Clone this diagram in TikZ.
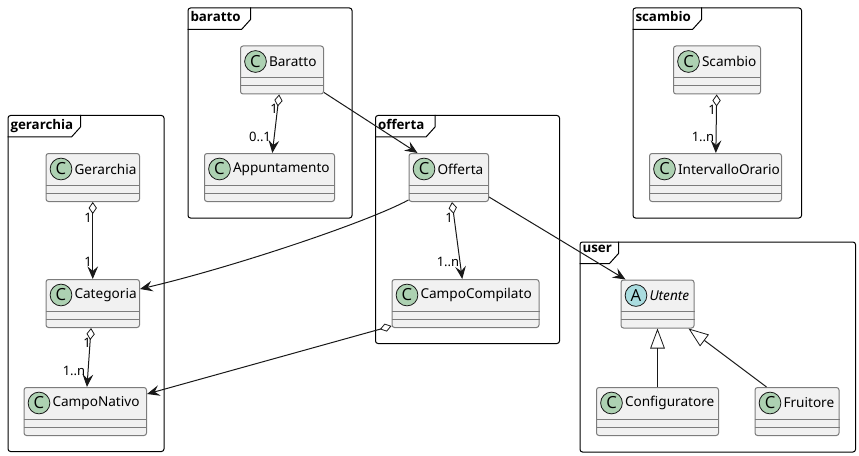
\documentclass[tikz,border=0pt]{standalone}
\usepackage{fontspec}
\setmainfont{Noto Sans}
\newfontfamily\tabfont{Open Sans}
\usetikzlibrary{arrows.meta,calc}

\definecolor{boxfill}{HTML}{F1F1F1}
\definecolor{boxline}{HTML}{7C7C7C}
\definecolor{wireline}{HTML}{181818}
\definecolor{spotC}{HTML}{ADD1B2}
\definecolor{spotA}{HTML}{A9DCDF}

\tikzset{every picture/.style={line width=0.75pt},
	framebox/.style={draw=black,rounded corners=1.9pt,anchor=north west,inner sep=0pt,line width=0.75pt},
	tabtext/.style={anchor=north west,inner sep=0pt,font=\fontsize{10}{12}\tabfont\bfseries},
	classbox/.style={draw=boxline,fill=boxfill,rounded corners=1.9pt,anchor=north west,inner sep=0pt,minimum height=36pt,line width=0.75pt},
	spot/.style={circle,draw=wireline,line width=0.6pt,minimum size=16.3pt,inner sep=0pt,font=\fontsize{12.5}{12}\tabfont},
	classtext/.style={anchor=west,inner sep=0pt,font=\fontsize{10.2}{12}\selectfont},
	rolelabel/.style={inner sep=0pt,font=\fontsize{9.75}{11}\selectfont},
	wire/.style={draw=wireline,line width=0.75pt},
	hasa/.style={wire,{Diamond[open,length=9pt,width=6.2pt,line width=0.6pt]}-{Stealth[length=9.5pt,width=8pt,inset=3.5pt]}},
	uses/.style={wire,-{Stealth[length=9.5pt,width=8pt,inset=3.5pt]}},
	isa/.style={wire,-{Triangle[open,length=15pt,width=11pt,line width=0.6pt]}}}

% frame of a package: name, x, y, width, height, tab width, text
\newcommand{\packagenode}[7]{
	\node [framebox,minimum width=#4*0.75pt,minimum height=#5*0.75pt] (#1) at (#2,#3) {};
	\draw [line width=0.75pt] ($(#1.north west)+(0,22)$) -- ($(#1.north west)+(#6-9,22)$) -- ($(#1.north west)+(#6,12)$) -- ($(#1.north west)+(#6,0)$);
	\node [tabtext] (#1tab) at ($(#1.north west)+(2.5,3.5)$) {#7};
}
% class box: name, x, y, width, letter, spot colour, text
\newcommand{\classnode}[7]{
	\node [classbox,minimum width=#4*0.75pt] (#1) at (#2,#3) {};
	\draw [boxline] ($(#1.north west)+(0,32)$) -- ($(#1.north east)+(0,32)$);
	\draw [boxline] ($(#1.north west)+(0,40)$) -- ($(#1.north east)+(0,40)$);
	\node [spot,fill=#6] (#1spot) at ($(#1.north west)+(15.5,16)$) {#5};
	\node [classtext] (#1text) at ($(#1.north west)+(28.5,16)$) {#7};
}

\begin{document}
\begin{tikzpicture}[x=0.75pt,y=0.75pt,yscale=-1,xscale=1]
	\useasboundingbox (0,0) rectangle (859,456);

	%Packages
	\packagenode{gerarchia}{7.5}{115}{156}{336}{73}{gerarchia}
	\packagenode{baratto}{187.5}{7.5}{164}{210}{63}{baratto}
	\packagenode{offerta}{375}{115}{184}{228}{60}{offerta}
	\packagenode{scambio}{632.5}{7.5}{168.5}{210}{69}{scambio}
	\packagenode{user}{579.5}{241.5}{275.5}{210}{39}{user}

	%Classes
	\classnode{Gerarchia}{45.5}{153}{93.5}{C}{spotC}{Gerarchia}
	\classnode{Categoria}{45.5}{279}{93.5}{C}{spotC}{Categoria}
	\classnode{CampoNativo}{23.5}{387}{122.5}{C}{spotC}{CampoNativo}
	\classnode{Baratto}{240}{45.5}{83}{C}{spotC}{Baratto}
	\classnode{Appuntamento}{204}{153}{130}{C}{spotC}{Appuntamento}
	\classnode{Offerta}{408.5}{153}{79.5}{C}{spotC}{Offerta}
	\classnode{CampoCompilato}{391.5}{279}{147}{C}{spotC}{CampoCompilato}
	\classnode{Scambio}{673}{45.5}{87}{C}{spotC}{Scambio}
	\classnode{IntervalloOrario}{649}{153}{132}{C}{spotC}{IntervalloOrario}
	\classnode{Utente}{620.5}{279.5}{73}{A}{spotA}{\itshape Utente}
	\classnode{Configuratore}{596}{387}{122}{C}{spotC}{Configuratore}
	\classnode{Fruitore}{754.5}{387}{84}{C}{spotC}{Fruitore}

	%Connectors
	\draw [hasa] (Gerarchia) -- (Categoria);
	\draw [hasa] (Categoria) -- (CampoNativo);
	\draw [hasa] (Baratto) -- (Appuntamento);
	\draw [hasa] (Offerta) -- (CampoCompilato);
	\draw [hasa] (Scambio) -- (IntervalloOrario);
	\draw [uses] ($(Baratto.south east)+(0,-2)$) -- ($(Offerta.north west)+(9,0)$);
	\draw [uses] ($(Offerta.south west)+(0,-2)$) .. controls +(-43,23) and +(90,-21) .. ($(Categoria.north east)+(0,10)$);
	\draw [uses] ($(Offerta.south east)+(0,-5)$) -- ($(Utente.north west)+(5,0)$);
	\draw [hasa] ($(CampoCompilato.south west)+(0,-2)$) -- ($(CampoNativo.north east)+(0,7)$);
	\draw [isa] (Configuratore) -- (Utente);
	\draw [isa] ($(Fruitore.north west)+(12,0)$) -- ($(Utente.south east)+(-6,0)$);

	% Text Node
	\node [rolelabel] (lblA) at (88,218) {1};
	\node [rolelabel] (lblB) at (88,262) {1};
	\node [rolelabel] (lblC) at (87,343) {1};
	\node [rolelabel] (lblD) at (74,371) {1..n};
	\node [rolelabel] (lblE) at (274,109) {1};
	\node [rolelabel] (lblF) at (260,137) {0..1};
	\node [rolelabel] (lblG) at (449,218) {1};
	\node [rolelabel] (lblH) at (448,262) {1..n};
	\node [rolelabel] (lblI) at (712,110) {1};
	\node [rolelabel] (lblJ) at (703,137) {1..n};
\end{tikzpicture}
\end{document}
